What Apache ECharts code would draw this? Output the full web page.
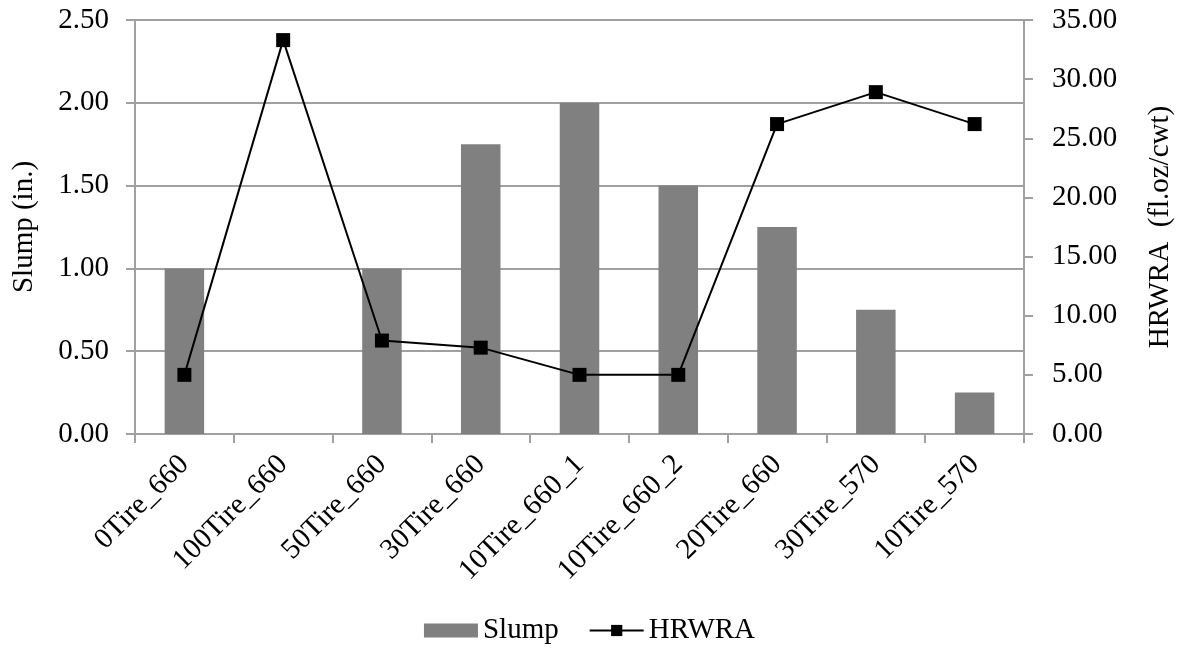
<!DOCTYPE html>
<html>
<head>
<meta charset="utf-8">
<script src="https://cdn.jsdelivr.net/npm/echarts@6/dist/echarts.min.js"></script>
<style>
html,body{margin:0;padding:0;background:#fff;}
#chart{width:1179px;height:650px;}
</style>
</head>
<body>
<div id="chart"></div>
<script>
var categories = ['0Tire_660','100Tire_660','50Tire_660','30Tire_660','10Tire_660_1','10Tire_660_2','20Tire_660','30Tire_570','10Tire_570'];
var slump = [1.00, 0, 1.00, 1.75, 2.00, 1.50, 1.25, 0.75, 0.25];
var hrwra = [5.0, 33.3, 7.9, 7.3, 5.0, 5.0, 26.2, 28.9, 26.2];
var leftTicks = {min: 0, max: 2.5, interval: 0.5};
var rightTicks = {min: 0, max: 35, interval: 5};

var FONT = '"Liberation Serif", "DejaVu Serif", serif';
var FS = 29;
var chart = echarts.init(document.getElementById('chart'));
chart.setOption({
  animation: false,
  backgroundColor: '#fff',
  textStyle: {fontFamily: FONT, color: '#000'},
  grid: {left: 135, right: 155, top: 20, bottom: 216, outerBoundsMode: 'none', containLabel: false},
  legend: {
    bottom: 0, left: 'center',
    itemWidth: 54, itemHeight: 14, itemGap: 30,
    textStyle: {fontFamily: FONT, fontSize: FS, color: '#000'},
    data: [{name: 'Slump', icon: 'rect'}, {name: 'HRWRA'}]
  },
  xAxis: {
    type: 'category',
    data: categories,
    axisLine: {lineStyle: {color: '#a0a0a0', width: 2}},
    axisTick: {show: true, length: 9, lineStyle: {color: '#a0a0a0', width: 2}},
    axisLabel: {rotate: 45, margin: 26, fontFamily: FONT, fontSize: FS, color: '#000'}
  },
  yAxis: [{
    type: 'value',
    min: leftTicks.min, max: leftTicks.max, interval: leftTicks.interval,
    name: 'Slump (in.)', nameLocation: 'middle', nameRotate: 90, nameGap: 96,
    nameTextStyle: {fontFamily: FONT, fontSize: FS, color: '#000'},
    axisLine: {show: true, lineStyle: {color: '#a0a0a0', width: 2}},
    axisTick: {show: true, length: 9, lineStyle: {color: '#a0a0a0', width: 2}},
    splitLine: {show: true, lineStyle: {color: '#a0a0a0', width: 2}},
    axisLabel: {margin: 26, fontFamily: FONT, fontSize: FS, color: '#000',
      formatter: function(v){return v.toFixed(2);}}
  }, {
    type: 'value', position: 'right',
    min: rightTicks.min, max: rightTicks.max, interval: rightTicks.interval,
    name: 'HRWRA  (fl.oz/cwt)', nameLocation: 'middle', nameRotate: 90, nameGap: 122,
    nameTextStyle: {fontFamily: FONT, fontSize: FS, color: '#000'},
    axisLine: {show: true, lineStyle: {color: '#a0a0a0', width: 2}},
    axisTick: {show: true, length: 9, lineStyle: {color: '#a0a0a0', width: 2}},
    splitLine: {show: false},
    axisLabel: {margin: 28, fontFamily: FONT, fontSize: FS, color: '#000',
      formatter: function(v){return v.toFixed(2);}}
  }],
  series: [{
    name: 'Slump', type: 'bar', yAxisIndex: 0,
    data: slump, barWidth: '40%',
    itemStyle: {color: '#808080'}
  }, {
    name: 'HRWRA', type: 'line', yAxisIndex: 1,
    data: hrwra,
    symbol: 'rect', symbolSize: 14,
    lineStyle: {color: '#000', width: 2},
    itemStyle: {color: '#000'}
  }]
});
</script>
</body>
</html>
